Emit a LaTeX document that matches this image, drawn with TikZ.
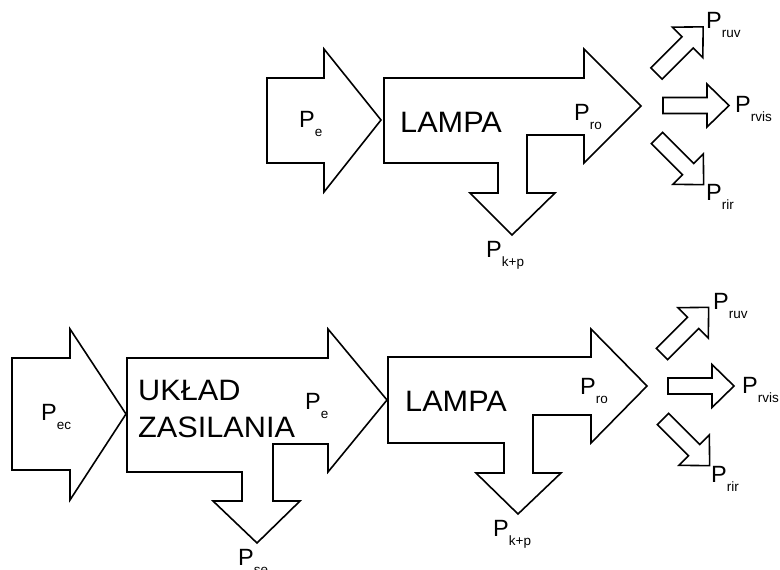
\documentclass[tikz,border=0pt]{standalone}
\usepackage{fontspec}
\setmainfont{Liberation Sans}
\newcommand{\powerlbl}[1]{P\raisebox{-9pt}{\fontsize{13.5}{13.5}\selectfont #1}}
\newcommand{\widetext}[1]{\scalebox{1.04}[1]{#1}}
\begin{document}
\begin{tikzpicture}[x=1pt,y=-1pt,
  flow/.style={draw=black,line width=1.6pt,line join=miter,fill=white},
  lbl/.style={anchor=base west,inner sep=0pt,font=\fontsize{23.5}{23.5}\selectfont},
  blocktext/.style={anchor=base west,inner sep=0pt,font=\fontsize{29.5}{29.5}\selectfont},
  smallarrow/.pic={\draw[flow] (0,-8) -- (44,-8) -- (44,-21.5) -- (66,0) -- (44,21.5) -- (44,8) -- (0,8) -- cycle;}
]
\useasboundingbox (0,0) rectangle (780,570);

% ---------- upper chain: lamp alone ----------
\draw[flow] (267,78) -- (324,78) -- (324,49) -- (381,120) -- (324,192) -- (324,163) -- (267,163) -- cycle;
\draw[flow] (384,78) -- (584,78) -- (584,49) -- (641,106) -- (584,163) -- (584,135) -- (527,135)
  -- (527,193) -- (555,193) -- (512,235) -- (470,193) -- (498,193) -- (498,163) -- (384,163) -- cycle;
\pic[rotate=45]  at (656.5,73.5) {smallarrow};
\pic             at (663,105.5)  {smallarrow};
\pic[rotate=-45] at (657,138)    {smallarrow};

\node[lbl] (pe1)   at (299,127) {\powerlbl{e}};
\node[blocktext] (lampa1) at (400,132) {\widetext{LAMPA}};
\node[lbl] (pro1)  at (574,120) {\powerlbl{ro}};
\node[lbl] (pkp1)  at (486,257) {\powerlbl{k+p}};
\node[lbl] (ruv1)  at (706,28)  {\powerlbl{ruv}};
\node[lbl] (rvis1) at (735,112) {\powerlbl{rvis}};
\node[lbl] (rir1)  at (706,200) {\powerlbl{rir}};

% ---------- lower chain: power supply + lamp ----------
\draw[flow] (12,358) -- (70,358) -- (70,329) -- (126,414) -- (70,500) -- (70,470) -- (12,470) -- cycle;
\draw[flow] (127,358) -- (328,358) -- (328,329) -- (387,400) -- (328,472) -- (328,444) -- (273,444)
  -- (273,501) -- (300,501) -- (257,543) -- (213,501) -- (242,501) -- (242,472) -- (127,472) -- cycle;
\draw[flow] (388,357) -- (591,357) -- (591,329) -- (647,386) -- (591,443) -- (591,415) -- (533,415)
  -- (533,473) -- (561,473) -- (518,514) -- (476,473) -- (504,473) -- (504,443) -- (388,443) -- cycle;
\pic[rotate=45]  at (662,354) {smallarrow};
\pic             at (668,386) {smallarrow};
\pic[rotate=-45] at (663,419) {smallarrow};

\node[lbl] (pec)   at (41,420)  {\powerlbl{ec}};
\node[blocktext] (uklad1) at (138,400) {\widetext{UKŁAD}};
\node[blocktext] (uklad2) at (138,437) {\widetext{ZASILANIA}};
\node[lbl] (pe2)   at (305,409) {\powerlbl{e}};
\node[lbl] (pse)   at (238,565) {\powerlbl{se}};
\node[blocktext] (lampa2) at (405,411) {\widetext{LAMPA}};
\node[lbl] (pro2)  at (580,394) {\powerlbl{ro}};
\node[lbl] (pkp2)  at (493,536) {\powerlbl{k+p}};
\node[lbl] (ruv2)  at (713,309) {\powerlbl{ruv}};
\node[lbl] (rvis2) at (742,393) {\powerlbl{rvis}};
\node[lbl] (rir2)  at (711,482) {\powerlbl{rir}};
\end{tikzpicture}
\end{document}
